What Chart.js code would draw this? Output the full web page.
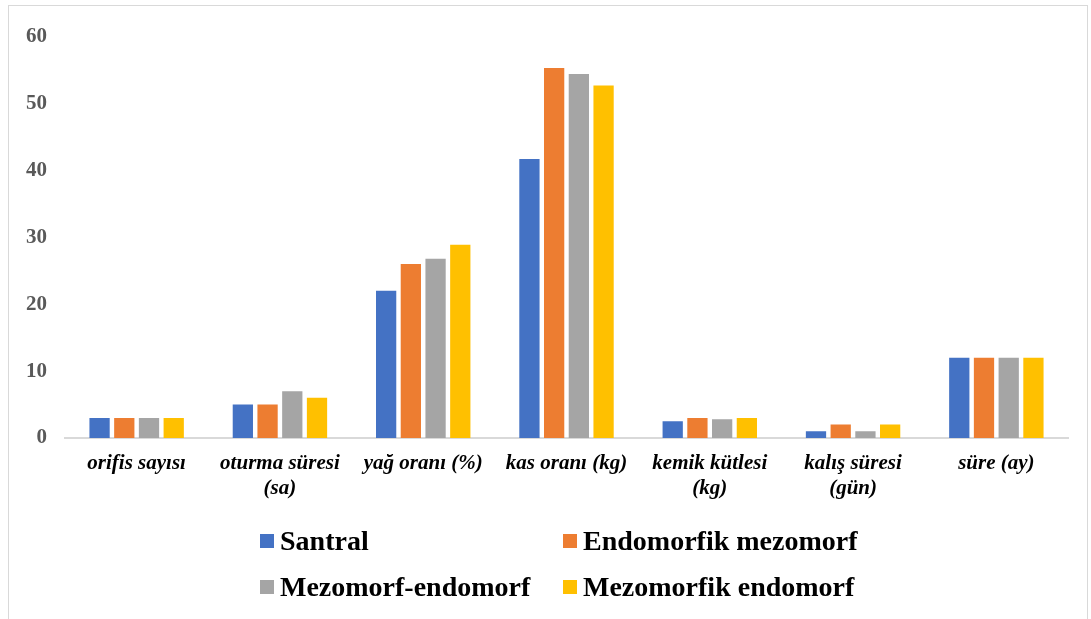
<!DOCTYPE html>
<html>
<head>
<meta charset="utf-8">
<script src="https://cdn.jsdelivr.net/npm/chart.js@4.4.1/dist/chart.umd.min.js"></script>
<style>
  html, body { margin: 0; padding: 0; background: #fff; }
  #frame {
    position: absolute; left: 8px; top: 5px; width: 1078px; height: 620px;
    border: 1px solid #d9d9d9; border-bottom: none;
  }
  #wrap { position: absolute; left: 0; top: 0; width: 1078px; height: 613px; }
  #legend {
    position: absolute; left: 251px; top: 517px;
    display: grid; grid-template-columns: 303px 320px; row-gap: 10px;
    font-family: "Liberation Serif", "Times New Roman", serif;
    font-weight: bold; font-size: 28px; color: #000;
  }
  .item { display: flex; align-items: center; height: 36px; white-space: nowrap; }
  .box { width: 14px; height: 14px; margin-right: 6px; }
</style>
</head>
<body>
<div id="frame">
  <div id="wrap"><canvas id="myChart"></canvas></div>
  <div id="legend"></div>
</div>
<script>
// Chart data

const categories = [
    'orifis sayısı',
    ['oturma süresi', '(sa)'],
    'yağ oranı (%)',
    'kas oranı (kg)',
    ['kemik kütlesi', '(kg)'],
    ['kalış süresi', '(gün)'],
    'süre (ay)'
];

const seriesNames = ['Santral', 'Endomorfik mezomorf', 'Mezomorf-endomorf', 'Mezomorfik endomorf'];
const seriesColors = ['#4472C4', '#ED7D31', '#A5A5A5', '#FFC000'];

const santral = [3, 5, 22, 41.7, 2.5, 1, 12];
const endomorfikMezomorf = [3, 5, 26, 55.3, 3, 2, 12];
const mezomorfEndomorf = [3, 7, 26.8, 54.4, 2.8, 1, 12];
const mezomorfikEndomorf = [3, 6, 28.9, 52.7, 3, 2, 12];

const yTicks = [0, 10, 20, 30, 40, 50, 60];

const seriesValues = [santral, endomorfikMezomorf, mezomorfEndomorf, mezomorfikEndomorf];

const datasets = seriesNames.map((name, i) => ({
    label: name,
    data: seriesValues[i],
    backgroundColor: seriesColors[i],
    borderWidth: 0,
    barPercentage: 0.82,
    categoryPercentage: 0.69
}));

// legend laid out as a 2x2 grid like the original
const legendEl = document.getElementById('legend');
seriesNames.forEach((name, i) => {
    const item = document.createElement('div');
    item.className = 'item';
    item.innerHTML = `<span class="box" style="background:${seriesColors[i]}"></span>${name}`;
    legendEl.appendChild(item);
});

const serif = '"Liberation Serif", "Times New Roman", serif';
const ctx = document.getElementById('myChart').getContext('2d');

new Chart(ctx, {
    type: 'bar',
    data: {
        labels: categories,
        datasets: datasets
    },
    options: {
        responsive: true,
        maintainAspectRatio: false,
        animation: false,
        layout: {
            padding: { top: 18, right: 19, bottom: 111, left: 0 }
        },
        plugins: {
            legend: { display: false },
            tooltip: { enabled: false }
        },
        scales: {
            x: {
                grid: { display: false, drawTicks: false },
                border: { display: true, color: '#d9d9d9', width: 2 },
                ticks: {
                    color: '#000',
                    padding: 13,
                    maxRotation: 0,
                    autoSkip: false,
                    font: { family: serif, size: 21, weight: 'bold', style: 'italic', lineHeight: 1.2 }
                },
                afterFit: s => { s.height = 70; }
            },
            y: {
                min: 0,
                max: 60,
                grid: { display: false, drawTicks: false },
                border: { display: false },
                afterBuildTicks: s => { s.ticks = yTicks.map(v => ({ value: v })); },
                ticks: {
                    color: '#595959',
                    padding: 18,
                    font: { family: serif, size: 21, weight: 'bold' }
                },
                afterFit: s => { s.width = 56; }
            }
        }
    }
});
</script>
</body>
</html>
